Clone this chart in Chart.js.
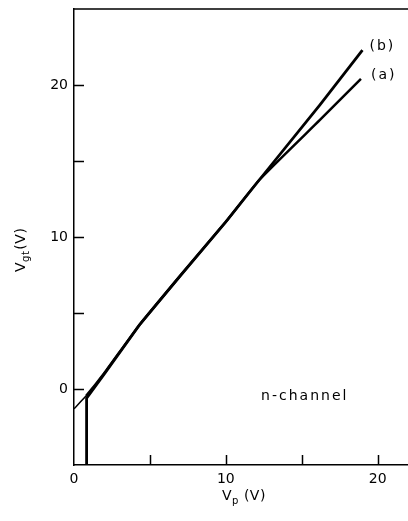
<!DOCTYPE html>
<html><head><meta charset="utf-8">
<script src="https://cdn.jsdelivr.net/npm/chart.js@4/dist/chart.umd.min.js"></script>
<style>html,body{margin:0;padding:0;background:#fff}canvas{display:block}</style>
</head><body>
<canvas id="c" width="408" height="521"></canvas>
<script>
// Data
const vpA  = [0, 0.8, 2, 4.3, 7, 10, 12.2, 16.2, 18.9];
const vgtA = [-1.3, -0.45, 1.05, 4.2, 7.45, 11.0, 13.75, 17.7, 20.4];
const vpB  = [0.83, 0.83, 2, 4.3, 7, 10, 12.2, 16.2, 19.0];
const vgtB = [-5, -0.6, 1.0, 4.2, 7.45, 11.0, 13.75, 18.7, 22.3];
const seriesLabels = ['(a)', '(b)'];
const xTicks = [0, 5, 10, 15, 20];
const xTickLabels = ['0', '', '10', '', '20'];
const yTicks = [0, 5, 10, 15, 20];
const yTickLabels = ['0', '', '10', '', '20'];
const noteText = 'n-channel';
const xTitleMain = 'V', xTitleSub = 'p', xTitleUnit = ' (V)';
const yTitleMain = 'V', yTitleSub = 'gt', yTitleUnit = '(V)';

const FONT = '"DejaVu Sans", sans-serif';
const toPts = (xs, ys) => xs.map((v, i) => ({x: v, y: ys[i]}));

const decor = {
  id: 'decor',
  afterDraw(chart) {
    const {ctx, chartArea: a, scales: {x, y}} = chart;
    ctx.save();
    ctx.strokeStyle = '#000';
    ctx.lineWidth = 1.5;
    ctx.beginPath();
    ctx.moveTo(a.left, a.top); ctx.lineTo(a.right, a.top);
    xTicks.forEach(v => {
      if (v <= x.min || v >= x.max) return;
      const px = Math.round(x.getPixelForValue(v)) + 0.5;
      ctx.moveTo(px, a.bottom); ctx.lineTo(px, a.bottom - 10);
    });
    yTicks.forEach(v => {
      if (v <= y.min || v >= y.max) return;
      const py = Math.round(y.getPixelForValue(v)) + 0.5;
      ctx.moveTo(a.left, py); ctx.lineTo(a.left + 10, py);
    });
    ctx.stroke();

    ctx.fillStyle = '#000';
    ctx.font = '14px ' + FONT;
    ctx.letterSpacing = '2px';
    ctx.textBaseline = 'middle';
    ctx.textAlign = 'left';
    chart.data.datasets.forEach((ds, i) => {
      const last = ds.data[ds.data.length - 1];
      const px = x.getPixelForValue(last.x), py = y.getPixelForValue(last.y);
      ctx.fillText(ds.label, px + (i === 0 ? 10 : 7), py - 4);
    });
    ctx.letterSpacing = '2px';
    ctx.textAlign = 'center';
    ctx.fillText(noteText, x.getPixelForValue(15.2), y.getPixelForValue(-0.5));

    // x axis title with subscript
    ctx.letterSpacing = '0.5px';
    ctx.textAlign = 'left';
    ctx.textBaseline = 'alphabetic';
    let tx = 222, ty = 500;
    ctx.font = '14px ' + FONT;
    ctx.fillText(xTitleMain, tx, ty); tx += ctx.measureText(xTitleMain).width;
    ctx.font = '10px ' + FONT;
    ctx.fillText(xTitleSub, tx, ty + 4); tx += ctx.measureText(xTitleSub).width;
    ctx.font = '14px ' + FONT;
    ctx.fillText(xTitleUnit, tx, ty);

    // y axis title rotated
    ctx.translate(25, 272);
    ctx.rotate(-Math.PI / 2);
    tx = 0; ty = 0;
    ctx.font = '14px ' + FONT;
    ctx.fillText(yTitleMain, tx, ty); tx += ctx.measureText(yTitleMain).width;
    ctx.font = '10px ' + FONT;
    ctx.fillText(yTitleSub, tx, ty + 4); tx += ctx.measureText(yTitleSub).width + 1;
    ctx.font = '14px ' + FONT;
    ctx.fillText(yTitleUnit, tx, ty);
    ctx.restore();
  }
};

new Chart(document.getElementById('c'), {
  type: 'scatter',
  data: {
    datasets: [
      {label: seriesLabels[0], data: toPts(vpA, vgtA), showLine: true,
       borderColor: '#000', borderWidth: 2.5, pointRadius: 0, tension: 0.15,
       segment: {borderWidth: c => c.p0DataIndex === 0 ? 1.5 : 2.5}},
      {label: seriesLabels[1], data: toPts(vpB, vgtB), showLine: true,
       borderColor: '#000', borderWidth: 2.8, pointRadius: 0, tension: 0}
    ]
  },
  options: {
    responsive: false,
    animation: false,
    events: [],
    layout: {padding: {top: 9, right: 0, left: 0, bottom: 0}},
    plugins: {legend: {display: false}, tooltip: {enabled: false}},
    scales: {
      x: {
        type: 'linear', min: 0, max: 22, position: 'bottom',
        grid: {display: false, drawTicks: false, tickLength: 0},
        border: {display: true, color: '#000', width: 1.5},
        ticks: {
          stepSize: 5, includeBounds: false, color: '#000', padding: 6,
          maxRotation: 0, autoSkip: false,
          font: {family: FONT, size: 14},
          callback: v => { const i = xTicks.indexOf(v); return i >= 0 ? xTickLabels[i] : ''; }
        },
        afterFit: s => { s.height = 56; s.paddingLeft = 0; s.paddingRight = 0; }
      },
      y: {
        type: 'linear', min: -5, max: 25,
        grid: {display: false, drawTicks: false, tickLength: 0},
        border: {display: true, color: '#000', width: 1.5},
        ticks: {
          stepSize: 5, includeBounds: false, color: '#000', padding: 6,
          autoSkip: false,
          font: {family: FONT, size: 14},
          callback: v => { const i = yTicks.indexOf(v); return i >= 0 ? yTickLabels[i] : ''; }
        },
        afterFit: s => { s.width = 74; s.paddingTop = 0; s.paddingBottom = 0; }
      }
    }
  },
  plugins: [decor]
});
</script>
</body></html>
